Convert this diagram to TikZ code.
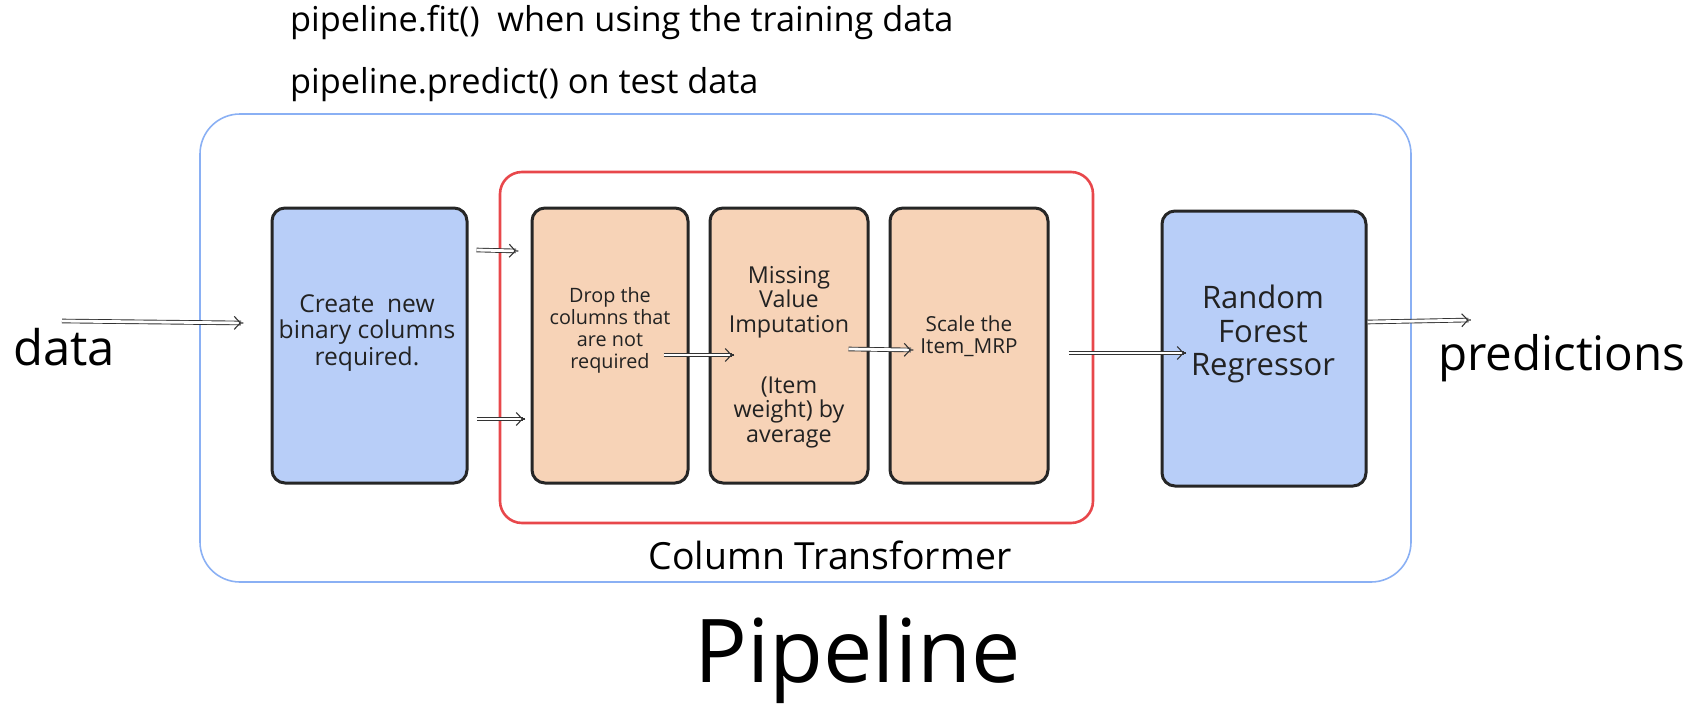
\documentclass[tikz,border=0pt]{standalone}
\usepackage{fontspec}
\setmainfont{Open Sans}
\usetikzlibrary{arrows.meta,calc,decorations.markings}
\definecolor{bluefill}{HTML}{B8CEF8}
\definecolor{orangefill}{HTML}{F7D3B7}
\definecolor{outerblue}{HTML}{8AB0F4}
\definecolor{ctred}{HTML}{E8474B}
\definecolor{boxline}{HTML}{262626}
\definecolor{txt}{HTML}{222222}
\definecolor{arrcol}{HTML}{333333}
\begin{document}
\begin{tikzpicture}[x=1pt,y=-1pt,
  stepbox/.style={draw=boxline, line width=3pt, rounded corners=13pt, inner sep=0pt, minimum height=275pt},
  bluebox/.style={stepbox, fill=bluefill},
  orangebox/.style={stepbox, fill=orangefill},
  boxtext/.style={align=center, inner sep=0pt, text=txt},
  plain/.style={inner sep=0pt, text=black},
  arr/.style={draw=arrcol, line width=0.9pt, double=white, double distance=2.8pt, shorten >=2.5pt,
    postaction={decorate, decoration={markings, mark=at position 1 with {\draw[draw=arrcol, line width=1.1pt, -{Straight Barb[length=6pt,width=13pt]}] (-0.2pt,0pt) -- (0pt,0pt);}}}}
]
\useasboundingbox (0,0) rectangle (1698,712);

% containers
\node[draw=outerblue, line width=1.6pt, rounded corners=40pt, minimum width=1211pt, minimum height=468pt, inner sep=0pt] (outer) at (805.5,348) {};
\node[draw=ctred, line width=2.6pt, rounded corners=22pt, minimum width=593pt, minimum height=351pt, inner sep=0pt] (ct) at (796.5,347.5) {};

% boxes
\node[bluebox, minimum width=195pt] (b1) at (369.5,345.5) {};
\node[orangebox, minimum width=156pt] (b2) at (610,345.5) {};
\node[orangebox, minimum width=158pt] (b3) at (789,345.5) {};
\node[orangebox, minimum width=158pt] (b4) at (969,345.5) {};
\node[bluebox, minimum width=204pt] (rf) at (1264,348.5) {};

% box texts
\node[boxtext, font=\fontsize{24.6}{26.5}\selectfont] (t1) at (367,333) {Create~ new\\binary columns\\required.};
\node[boxtext, font=\fontsize{19.8}{22}\selectfont] (t2) at (610,330) {Drop the\\columns that\\are not\\required};
\node[boxtext, font=\fontsize{23.3}{24.5}\selectfont] (t3) at (789,357) {Missing\\Value\\Imputation\\[36.5pt](Item\\weight) by\\average};
\node[boxtext, font=\fontsize{20.7}{22.5}\selectfont] (t4) at (969,336) {Scale the\\Item\_MRP};
\node[boxtext, font=\fontsize{31}{33.5}\selectfont] (t5) at (1263,334) {Random\\Forest\\Regressor};

% free texts
\node[plain, anchor=base west, font=\fontsize{49}{54}\selectfont] (data) at (13,365) {data};
\node[plain, anchor=base west, font=\fontsize{47.5}{54}\selectfont] (pred) at (1438,370) {predictions};
\node[plain, anchor=base west, font=\fontsize{34.3}{38}\selectfont] (top1) at (290,31) {pipeline.fit()~ when using the training data};
\node[plain, anchor=base west, font=\fontsize{34.3}{38}\selectfont] (top2) at (290,93) {pipeline.predict() on test data};
\node[plain, anchor=base, font=\fontsize{37.4}{42}\selectfont] (ctlabel) at (830,569) {Column Transformer};
\node[plain, anchor=base west, font=\fontsize{88}{100}\selectfont] (pipe) at (694,682) {Pipeline};

% arrows
\coordinate (dstart) at (62,321);
\coordinate (pend) at (1471,320);
\draw[arr] (dstart) -- ($(b1.west)+(-27,-22.5)$);
\draw[arr] ($(b1.east)+(8,-95.5)$) -- ($(b2.west)+(-12,-94.5)$);
\draw[arr] ($(b1.east)+(8,73.5)$) -- ($(b2.west)+(-5,73.5)$);
\draw[arr] ($(b2.east)+(-26,9.5)$) -- ($(b3.west)+(26,9.5)$);
\draw[arr] ($(b3.east)+(-21,3.5)$) -- ($(b4.west)+(25,4.5)$);
\draw[arr] ($(b4.east)+(19,7.5)$) -- ($(rf.west)+(26,4.5)$);
\draw[arr] ($(rf.east)+(0,-26.5)$) -- (pend);
\end{tikzpicture}
\end{document}
